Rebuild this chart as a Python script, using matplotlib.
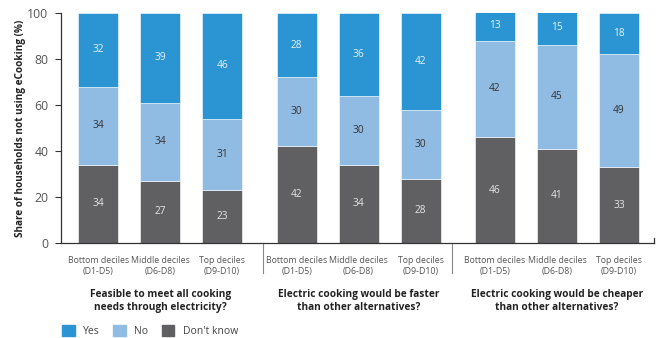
import numpy as np
import matplotlib.pyplot as plt
from matplotlib.patches import Patch

plt.rcParams['font.family'] = ['Open Sans', 'DejaVu Sans']

deciles = ['Bottom deciles\n(D1-D5)', 'Middle deciles\n(D6-D8)', 'Top deciles\n(D9-D10)']
questions = ['Feasible to meet all cooking\nneeds through electricity?',
             'Electric cooking would be faster\nthan other alternatives?',
             'Electric cooking would be cheaper\nthan other alternatives?']

dont_know = [34, 27, 23, 42, 34, 28, 46, 41, 33]
no = [34, 34, 31, 30, 30, 30, 42, 45, 49]
yes = [32, 39, 46, 28, 36, 42, 13, 15, 18]

c_yes = '#2b95d3'
c_no = '#90bbe3'
c_dk = '#606062'
grey = '#555555'

# three groups of three bars, wider gap between groups
gap = 1.2
x = np.array([g * (2 + gap) + i for g in range(3) for i in range(3)])

fig = plt.figure(figsize=(6.6, 3.38), dpi=100)
ax = fig.add_axes([0.0924, 0.281, 0.899, 0.6805])

w = 0.645
dk = np.array(dont_know)
nn = np.array(no)
yy = np.array(yes)
ax.bar(x, dk, w, color=c_dk, edgecolor='white', linewidth=0.4)
ax.bar(x, nn, w, bottom=dk, color=c_no, edgecolor='white', linewidth=0.4)
ax.bar(x, yy, w, bottom=dk + nn, color=c_yes, edgecolor='white', linewidth=0.4)

for xi, a, b, c in zip(x, dk, nn, yy):
    ax.text(xi, a / 2, str(a), ha='center', va='center', fontsize=7.3, color='#e6e6e6')
    ax.text(xi, a + b / 2, str(b), ha='center', va='center', fontsize=7.3, color='#333333')
    ax.text(xi, a + b + c / 2, str(c), ha='center', va='center', fontsize=7.3, color='#e8f2fb')

ax.set_ylim(0, 100)
ax.set_xlim(x[0] - 0.6, x[-1] + 0.57)
ax.set_yticks(range(0, 101, 20))
ax.tick_params(axis='y', labelsize=8.8, length=4, width=0.8, color='#333333',
               labelcolor=grey, pad=5)
ax.set_xticks(x)
ax.set_xticklabels(deciles * 3, fontsize=6.3, color=grey, linespacing=1.35)
ax.tick_params(axis='x', length=0, pad=9)

for s in ['top', 'right']:
    ax.spines[s].set_visible(False)
for s in ['left', 'bottom']:
    ax.spines[s].set_color('#333333')
    ax.spines[s].set_linewidth(0.9)

ax.set_ylabel('Share of households not using eCooking (%)', fontsize=7.2,
              fontweight='bold', color='#222222', labelpad=1)

# small upturn at the right end of the baseline
ax.plot([1, 1], [0, 0.02], transform=ax.transAxes, color='#333333', lw=0.9, clip_on=False)

# separators between question groups, running below the axis
for sep in [(x[2] + x[3]) / 2 + 0.06, (x[5] + x[6]) / 2 - 0.1]:
    ax.plot([sep, sep], [0, -0.13], transform=ax.get_xaxis_transform(),
            color='#888888', lw=0.8, clip_on=False)

for g, q in enumerate(questions):
    cx = x[g * 3 + 1]
    ax.text(cx, -0.2, q, transform=ax.get_xaxis_transform(), ha='center', va='top',
            fontsize=7.3, fontweight='bold', color='#222222', linespacing=1.25)

handles = [Patch(color=c_yes, label='Yes'), Patch(color=c_no, label='No'),
           Patch(color=c_dk, label="Don't know")]
fig.legend(handles=handles, loc='lower left', bbox_to_anchor=(0.08, -0.025), ncol=3,
           frameon=False, fontsize=7.5, handlelength=1.2, handleheight=1.2,
           handletextpad=0.8, columnspacing=1.3, labelcolor='#444444')

fig.savefig('out.png', dpi=100)
